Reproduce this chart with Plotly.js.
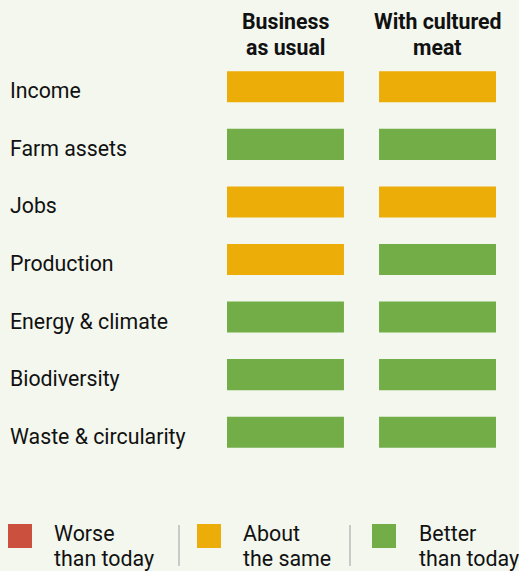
<!DOCTYPE html>
<html>
<head>
<meta charset="utf-8">
<script src="https://cdn.plot.ly/plotly-3.0.1.min.js"></script>
<style>html,body{margin:0;padding:0;background:#F3F7EE;}#chart{width:519px;height:571px;}</style>
</head>
<body>
<div id="chart"></div>
<script>
// ---- data ----
const categories = ["Income", "Farm assets", "Jobs", "Production", "Energy & climate", "Biodiversity", "Waste & circularity"];
const scenarios = ["Business<br>as usual", "With cultured<br>meat"];
const businessAsUsual = ["same", "better", "same", "same", "better", "better", "better"];
const withCulturedMeat = ["same", "better", "same", "better", "better", "better", "better"];
const legendKeys = ["worse", "same", "better"];
const legendLabels = ["Worse<br>than today", "About<br>the same", "Better<br>than today"];

// ---- style ----
const COLORS = {worse: "#CC503E", same: "#EDAD08", better: "#72AD47"};
const BG = "#F3F7EE";
const FONT = "Roboto, 'Open Sans', sans-serif";
const W = 519, H = 571;
const M = {l: 227, r: 23, t: 58, b: 110};
const PW = W - M.l - M.r, PH = H - M.t - M.b;
const xp = px => (px - M.l) / PW;
const yp = py => (H - M.b - py) / PH;

const BAR_LEN = 1;
const COL_OFFSETS = [0, 1.3];
const series = [businessAsUsual, withCulturedMeat];

const traces = series.map((s, i) => ({
  type: "bar",
  orientation: "h",
  y: categories,
  x: categories.map(() => BAR_LEN),
  base: categories.map(() => COL_OFFSETS[i]),
  width: 0.54,
  marker: {color: s.map(k => COLORS[k]), line: {width: 0}},
  hoverinfo: "skip",
  showlegend: false,
  name: scenarios[i].replace("<br>", " ")
}));

const annotations = [];
categories.forEach(c => annotations.push({
  text: c, xref: "paper", yref: "y", x: xp(8), y: c,
  xanchor: "left", yanchor: "middle", yshift: -4, showarrow: false,
  font: {family: FONT, size: 21.3, color: "#111"}
}));
const HEADER_LINE_Y = [21.5, 47.5];
scenarios.forEach((s, i) => s.split("<br>").forEach((line, j) => annotations.push({
  text: "<b>" + line + "</b>", xref: "x", yref: "paper",
  x: COL_OFFSETS[i] + BAR_LEN / 2, y: yp(HEADER_LINE_Y[j]), xanchor: "center", yanchor: "middle",
  showarrow: false, font: {family: FONT, size: 21.3, color: "#111"}
})));

const shapes = [];
const legendSquareX = [8, 197, 372];
const legendTextX = [52, 241, 417];
const LEGEND_LINE_Y = [533, 558];
const sepX = [179, 350];
legendKeys.forEach((k, i) => {
  shapes.push({type: "rect", xref: "paper", yref: "paper",
    x0: xp(legendSquareX[i]), x1: xp(legendSquareX[i] + 24), y0: yp(548), y1: yp(524),
    fillcolor: COLORS[k], line: {width: 0}});
  legendLabels[i].split("<br>").forEach((line, j) => annotations.push({text: line, xref: "paper", yref: "paper",
    x: xp(legendTextX[i]), y: yp(LEGEND_LINE_Y[j]), xanchor: "left", yanchor: "middle", align: "left",
    showarrow: false, font: {family: FONT, size: 21.4, color: "#111"}}));
});
sepX.forEach(x => shapes.push({type: "line", xref: "paper", yref: "paper",
  x0: xp(x), x1: xp(x), y0: yp(566), y1: yp(525), line: {color: "#BBBBBB", width: 1.5}}));

const layout = {
  width: W, height: H, margin: M,
  paper_bgcolor: BG, plot_bgcolor: BG,
  showlegend: false, barmode: "overlay",
  xaxis: {range: [0, 2.3], visible: false, fixedrange: true},
  yaxis: {type: "category", categoryarray: categories, range: [6.5, -0.5], visible: false, fixedrange: true},
  annotations, shapes, hovermode: false
};
Plotly.newPlot("chart", traces, layout, {displayModeBar: false, staticPlot: true});
</script>
</body>
</html>
